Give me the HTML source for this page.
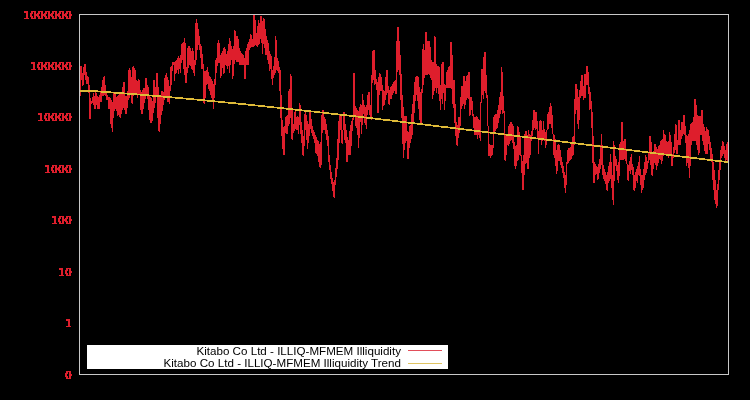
<!DOCTYPE html>
<html><head><meta charset="utf-8"><style>
html,body{margin:0;padding:0;background:#000;width:750px;height:400px;overflow:hidden}
svg{display:block}
.leg{font-family:"Liberation Sans",sans-serif;font-size:10.5px;fill:#000}
</style></head><body>
<svg width="750" height="400" viewBox="0 0 750 400">
<rect width="750" height="400" fill="#000"/>
<path d="M24,11h4v1h-4zM24,12h4v1h-4zM26,13h2v1h-2zM26,14h2v1h-2zM26,15h2v1h-2zM26,16h2v1h-2zM26,17h2v1h-2zM24,18h5v1h-5zM31,11h5v1h-5zM31,12h2v1h-2zM34,12h2v1h-2zM30,13h3v1h-3zM34,13h2v1h-2zM30,14h2v1h-2zM34,14h3v1h-3zM30,15h2v1h-2zM34,15h3v1h-3zM30,16h3v1h-3zM34,16h2v1h-2zM31,17h2v1h-2zM34,17h2v1h-2zM31,18h5v1h-5zM38,11h5v1h-5zM38,12h2v1h-2zM41,12h2v1h-2zM37,13h3v1h-3zM41,13h2v1h-2zM37,14h2v1h-2zM41,14h3v1h-3zM37,15h2v1h-2zM41,15h3v1h-3zM37,16h3v1h-3zM41,16h2v1h-2zM38,17h2v1h-2zM41,17h2v1h-2zM38,18h5v1h-5zM45,11h5v1h-5zM45,12h2v1h-2zM48,12h2v1h-2zM44,13h3v1h-3zM48,13h2v1h-2zM44,14h2v1h-2zM48,14h3v1h-3zM44,15h2v1h-2zM48,15h3v1h-3zM44,16h3v1h-3zM48,16h2v1h-2zM45,17h2v1h-2zM48,17h2v1h-2zM45,18h5v1h-5zM52,11h5v1h-5zM52,12h2v1h-2zM55,12h2v1h-2zM51,13h3v1h-3zM55,13h2v1h-2zM51,14h2v1h-2zM55,14h3v1h-3zM51,15h2v1h-2zM55,15h3v1h-3zM51,16h3v1h-3zM55,16h2v1h-2zM52,17h2v1h-2zM55,17h2v1h-2zM52,18h5v1h-5zM59,11h5v1h-5zM59,12h2v1h-2zM62,12h2v1h-2zM58,13h3v1h-3zM62,13h2v1h-2zM58,14h2v1h-2zM62,14h3v1h-3zM58,15h2v1h-2zM62,15h3v1h-3zM58,16h3v1h-3zM62,16h2v1h-2zM59,17h2v1h-2zM62,17h2v1h-2zM59,18h5v1h-5zM66,11h5v1h-5zM66,12h2v1h-2zM69,12h2v1h-2zM65,13h3v1h-3zM69,13h2v1h-2zM65,14h2v1h-2zM69,14h3v1h-3zM65,15h2v1h-2zM69,15h3v1h-3zM65,16h3v1h-3zM69,16h2v1h-2zM66,17h2v1h-2zM69,17h2v1h-2zM66,18h5v1h-5zM31,62h4v1h-4zM31,63h4v1h-4zM33,64h2v1h-2zM33,65h2v1h-2zM33,66h2v1h-2zM33,67h2v1h-2zM33,68h2v1h-2zM31,69h5v1h-5zM38,62h5v1h-5zM38,63h2v1h-2zM41,63h2v1h-2zM37,64h3v1h-3zM41,64h2v1h-2zM37,65h2v1h-2zM41,65h3v1h-3zM37,66h2v1h-2zM41,66h3v1h-3zM37,67h3v1h-3zM41,67h2v1h-2zM38,68h2v1h-2zM41,68h2v1h-2zM38,69h5v1h-5zM45,62h5v1h-5zM45,63h2v1h-2zM48,63h2v1h-2zM44,64h3v1h-3zM48,64h2v1h-2zM44,65h2v1h-2zM48,65h3v1h-3zM44,66h2v1h-2zM48,66h3v1h-3zM44,67h3v1h-3zM48,67h2v1h-2zM45,68h2v1h-2zM48,68h2v1h-2zM45,69h5v1h-5zM52,62h5v1h-5zM52,63h2v1h-2zM55,63h2v1h-2zM51,64h3v1h-3zM55,64h2v1h-2zM51,65h2v1h-2zM55,65h3v1h-3zM51,66h2v1h-2zM55,66h3v1h-3zM51,67h3v1h-3zM55,67h2v1h-2zM52,68h2v1h-2zM55,68h2v1h-2zM52,69h5v1h-5zM59,62h5v1h-5zM59,63h2v1h-2zM62,63h2v1h-2zM58,64h3v1h-3zM62,64h2v1h-2zM58,65h2v1h-2zM62,65h3v1h-3zM58,66h2v1h-2zM62,66h3v1h-3zM58,67h3v1h-3zM62,67h2v1h-2zM59,68h2v1h-2zM62,68h2v1h-2zM59,69h5v1h-5zM66,62h5v1h-5zM66,63h2v1h-2zM69,63h2v1h-2zM65,64h3v1h-3zM69,64h2v1h-2zM65,65h2v1h-2zM69,65h3v1h-3zM65,66h2v1h-2zM69,66h3v1h-3zM65,67h3v1h-3zM69,67h2v1h-2zM66,68h2v1h-2zM69,68h2v1h-2zM66,69h5v1h-5zM38,113h4v1h-4zM38,114h4v1h-4zM40,115h2v1h-2zM40,116h2v1h-2zM40,117h2v1h-2zM40,118h2v1h-2zM40,119h2v1h-2zM38,120h5v1h-5zM45,113h5v1h-5zM45,114h2v1h-2zM48,114h2v1h-2zM44,115h3v1h-3zM48,115h2v1h-2zM44,116h2v1h-2zM48,116h3v1h-3zM44,117h2v1h-2zM48,117h3v1h-3zM44,118h3v1h-3zM48,118h2v1h-2zM45,119h2v1h-2zM48,119h2v1h-2zM45,120h5v1h-5zM52,113h5v1h-5zM52,114h2v1h-2zM55,114h2v1h-2zM51,115h3v1h-3zM55,115h2v1h-2zM51,116h2v1h-2zM55,116h3v1h-3zM51,117h2v1h-2zM55,117h3v1h-3zM51,118h3v1h-3zM55,118h2v1h-2zM52,119h2v1h-2zM55,119h2v1h-2zM52,120h5v1h-5zM59,113h5v1h-5zM59,114h2v1h-2zM62,114h2v1h-2zM58,115h3v1h-3zM62,115h2v1h-2zM58,116h2v1h-2zM62,116h3v1h-3zM58,117h2v1h-2zM62,117h3v1h-3zM58,118h3v1h-3zM62,118h2v1h-2zM59,119h2v1h-2zM62,119h2v1h-2zM59,120h5v1h-5zM66,113h5v1h-5zM66,114h2v1h-2zM69,114h2v1h-2zM65,115h3v1h-3zM69,115h2v1h-2zM65,116h2v1h-2zM69,116h3v1h-3zM65,117h2v1h-2zM69,117h3v1h-3zM65,118h3v1h-3zM69,118h2v1h-2zM66,119h2v1h-2zM69,119h2v1h-2zM66,120h5v1h-5zM45,165h4v1h-4zM45,166h4v1h-4zM47,167h2v1h-2zM47,168h2v1h-2zM47,169h2v1h-2zM47,170h2v1h-2zM47,171h2v1h-2zM45,172h5v1h-5zM52,165h5v1h-5zM52,166h2v1h-2zM55,166h2v1h-2zM51,167h3v1h-3zM55,167h2v1h-2zM51,168h2v1h-2zM55,168h3v1h-3zM51,169h2v1h-2zM55,169h3v1h-3zM51,170h3v1h-3zM55,170h2v1h-2zM52,171h2v1h-2zM55,171h2v1h-2zM52,172h5v1h-5zM59,165h5v1h-5zM59,166h2v1h-2zM62,166h2v1h-2zM58,167h3v1h-3zM62,167h2v1h-2zM58,168h2v1h-2zM62,168h3v1h-3zM58,169h2v1h-2zM62,169h3v1h-3zM58,170h3v1h-3zM62,170h2v1h-2zM59,171h2v1h-2zM62,171h2v1h-2zM59,172h5v1h-5zM66,165h5v1h-5zM66,166h2v1h-2zM69,166h2v1h-2zM65,167h3v1h-3zM69,167h2v1h-2zM65,168h2v1h-2zM69,168h3v1h-3zM65,169h2v1h-2zM69,169h3v1h-3zM65,170h3v1h-3zM69,170h2v1h-2zM66,171h2v1h-2zM69,171h2v1h-2zM66,172h5v1h-5zM52,216h4v1h-4zM52,217h4v1h-4zM54,218h2v1h-2zM54,219h2v1h-2zM54,220h2v1h-2zM54,221h2v1h-2zM54,222h2v1h-2zM52,223h5v1h-5zM59,216h5v1h-5zM59,217h2v1h-2zM62,217h2v1h-2zM58,218h3v1h-3zM62,218h2v1h-2zM58,219h2v1h-2zM62,219h3v1h-3zM58,220h2v1h-2zM62,220h3v1h-3zM58,221h3v1h-3zM62,221h2v1h-2zM59,222h2v1h-2zM62,222h2v1h-2zM59,223h5v1h-5zM66,216h5v1h-5zM66,217h2v1h-2zM69,217h2v1h-2zM65,218h3v1h-3zM69,218h2v1h-2zM65,219h2v1h-2zM69,219h3v1h-3zM65,220h2v1h-2zM69,220h3v1h-3zM65,221h3v1h-3zM69,221h2v1h-2zM66,222h2v1h-2zM69,222h2v1h-2zM66,223h5v1h-5zM59,268h4v1h-4zM59,269h4v1h-4zM61,270h2v1h-2zM61,271h2v1h-2zM61,272h2v1h-2zM61,273h2v1h-2zM61,274h2v1h-2zM59,275h5v1h-5zM66,268h5v1h-5zM66,269h2v1h-2zM69,269h2v1h-2zM65,270h3v1h-3zM69,270h2v1h-2zM65,271h2v1h-2zM69,271h3v1h-3zM65,272h2v1h-2zM69,272h3v1h-3zM65,273h3v1h-3zM69,273h2v1h-2zM66,274h2v1h-2zM69,274h2v1h-2zM66,275h5v1h-5zM66,319h4v1h-4zM66,320h4v1h-4zM68,321h2v1h-2zM68,322h2v1h-2zM68,323h2v1h-2zM68,324h2v1h-2zM68,325h2v1h-2zM66,326h5v1h-5zM66,371h5v1h-5zM66,372h2v1h-2zM69,372h2v1h-2zM65,373h3v1h-3zM69,373h2v1h-2zM65,374h2v1h-2zM69,374h3v1h-3zM65,375h2v1h-2zM69,375h3v1h-3zM65,376h3v1h-3zM69,376h2v1h-2zM66,377h2v1h-2zM69,377h2v1h-2zM66,378h5v1h-5z" fill="rgb(222,30,44)" shape-rendering="crispEdges"/>
<path d="M80,66h1V96h-1zM81,66h1V80h-1zM82,73h1V86h-1zM83,67h1V85h-1zM84,64h1V75h-1zM85,64h1V80h-1zM86,72h1V84h-1zM87,76h1V84h-1zM88,77h1V93h-1zM89,85h1V119h-1zM90,98h1V119h-1zM91,101h1V104h-1zM92,97h1V103h-1zM93,93h1V105h-1zM94,96h1V109h-1zM95,91h1V109h-1zM96,93h1V105h-1zM97,96h1V109h-1zM98,97h1V109h-1zM99,95h1V109h-1zM100,91h1V102h-1zM101,87h1V102h-1zM102,80h1V96h-1zM103,77h1V96h-1zM104,76h1V95h-1zM105,85h1V96h-1zM106,91h1V100h-1zM107,95h1V100h-1zM108,97h1V109h-1zM109,97h1V109h-1zM110,98h1V124h-1zM111,100h1V128h-1zM112,102h1V132h-1zM113,92h1V118h-1zM114,92h1V111h-1zM115,92h1V109h-1zM116,97h1V111h-1zM117,96h1V116h-1zM118,95h1V115h-1zM119,93h1V117h-1zM120,92h1V118h-1zM121,92h1V114h-1zM122,87h1V110h-1zM123,82h1V108h-1zM124,82h1V110h-1zM125,96h1V114h-1zM126,96h1V114h-1zM127,91h1V108h-1zM128,70h1V100h-1zM129,68h1V98h-1zM130,70h1V95h-1zM131,77h1V103h-1zM132,67h1V104h-1zM133,66h1V96h-1zM134,68h1V95h-1zM135,70h1V95h-1zM136,80h1V95h-1zM137,81h1V98h-1zM138,79h1V95h-1zM139,80h1V95h-1zM140,90h1V110h-1zM141,92h1V114h-1zM142,90h1V114h-1zM143,88h1V109h-1zM144,88h1V103h-1zM145,78h1V99h-1zM146,78h1V96h-1zM147,85h1V99h-1zM148,87h1V110h-1zM149,95h1V120h-1zM150,97h1V123h-1zM151,98h1V123h-1zM152,101h1V121h-1zM153,80h1V113h-1zM154,80h1V108h-1zM155,87h1V103h-1zM156,73h1V96h-1zM157,73h1V118h-1zM158,87h1V131h-1zM159,96h1V132h-1zM160,96h1V124h-1zM161,91h1V115h-1zM162,91h1V111h-1zM163,92h1V105h-1zM164,78h1V100h-1zM165,75h1V98h-1zM166,73h1V96h-1zM167,77h1V102h-1zM168,80h1V102h-1zM169,86h1V104h-1zM170,67h1V91h-1zM171,66h1V85h-1zM172,62h1V71h-1zM173,62h1V65h-1zM174,62h1V81h-1zM175,61h1V74h-1zM176,60h1V73h-1zM177,58h1V70h-1zM178,56h1V74h-1zM179,58h1V69h-1zM180,55h1V73h-1zM181,44h1V63h-1zM182,43h1V60h-1zM183,42h1V69h-1zM184,38h1V75h-1zM185,43h1V83h-1zM186,67h1V83h-1zM187,48h1V73h-1zM188,46h1V68h-1zM189,46h1V65h-1zM190,48h1V66h-1zM191,51h1V69h-1zM192,48h1V70h-1zM193,51h1V73h-1zM194,60h1V76h-1zM195,23h1V65h-1zM196,19h1V60h-1zM197,23h1V50h-1zM198,29h1V45h-1zM199,36h1V50h-1zM200,44h1V58h-1zM201,46h1V69h-1zM202,54h1V69h-1zM203,64h1V103h-1zM204,71h1V104h-1zM205,71h1V98h-1zM206,70h1V85h-1zM207,67h1V84h-1zM208,72h1V89h-1zM209,76h1V91h-1zM210,77h1V95h-1zM211,79h1V98h-1zM212,81h1V100h-1zM213,84h1V109h-1zM214,79h1V98h-1zM215,60h1V85h-1zM216,58h1V73h-1zM217,43h1V66h-1zM218,40h1V63h-1zM219,43h1V63h-1zM220,55h1V78h-1zM221,53h1V76h-1zM222,51h1V68h-1zM223,48h1V74h-1zM224,47h1V73h-1zM225,49h1V65h-1zM226,54h1V66h-1zM227,51h1V69h-1zM228,44h1V66h-1zM229,38h1V73h-1zM230,41h1V65h-1zM231,46h1V60h-1zM232,49h1V79h-1zM233,46h1V76h-1zM234,30h1V64h-1zM235,31h1V60h-1zM236,36h1V62h-1zM237,36h1V62h-1zM238,39h1V62h-1zM239,48h1V65h-1zM240,51h1V65h-1zM241,53h1V65h-1zM242,54h1V65h-1zM243,55h1V65h-1zM244,58h1V79h-1zM245,51h1V79h-1zM246,48h1V65h-1zM247,44h1V65h-1zM248,42h1V65h-1zM249,39h1V50h-1zM250,34h1V48h-1zM251,35h1V47h-1zM252,39h1V47h-1zM253,15h1V47h-1zM254,15h1V46h-1zM255,20h1V45h-1zM256,33h1V46h-1zM257,26h1V47h-1zM258,20h1V45h-1zM259,23h1V44h-1zM260,16h1V39h-1zM261,16h1V43h-1zM262,21h1V54h-1zM263,18h1V44h-1zM264,19h1V48h-1zM265,29h1V55h-1zM266,36h1V55h-1zM267,40h1V60h-1zM268,43h1V64h-1zM269,51h1V71h-1zM270,54h1V69h-1zM271,56h1V79h-1zM272,70h1V85h-1zM273,66h1V78h-1zM274,57h1V75h-1zM275,36h1V73h-1zM276,40h1V70h-1zM277,58h1V71h-1zM278,61h1V73h-1zM279,67h1V91h-1zM280,70h1V118h-1zM281,95h1V136h-1zM282,120h1V149h-1zM283,127h1V155h-1zM284,126h1V155h-1zM285,117h1V133h-1zM286,116h1V134h-1zM287,115h1V134h-1zM288,91h1V126h-1zM289,89h1V124h-1zM290,74h1V118h-1zM291,76h1V139h-1zM292,109h1V140h-1zM293,124h1V133h-1zM294,112h1V131h-1zM295,110h1V129h-1zM296,117h1V130h-1zM297,116h1V130h-1zM298,117h1V134h-1zM299,103h1V125h-1zM300,105h1V134h-1zM301,122h1V143h-1zM302,130h1V155h-1zM303,136h1V156h-1zM304,114h1V146h-1zM305,112h1V130h-1zM306,115h1V140h-1zM307,121h1V149h-1zM308,124h1V143h-1zM309,111h1V136h-1zM310,111h1V129h-1zM311,119h1V133h-1zM312,126h1V136h-1zM313,130h1V139h-1zM314,132h1V143h-1zM315,135h1V153h-1zM316,137h1V154h-1zM317,140h1V156h-1zM318,141h1V162h-1zM319,144h1V167h-1zM320,142h1V168h-1zM321,115h1V165h-1zM322,110h1V133h-1zM323,110h1V130h-1zM324,117h1V130h-1zM325,119h1V134h-1zM326,124h1V140h-1zM327,130h1V146h-1zM328,136h1V162h-1zM329,155h1V170h-1zM330,165h1V179h-1zM331,172h1V184h-1zM332,178h1V191h-1zM333,182h1V197h-1zM334,180h1V198h-1zM335,168h1V185h-1zM336,158h1V177h-1zM337,139h1V169h-1zM338,121h1V160h-1zM339,115h1V143h-1zM340,114h1V130h-1zM341,115h1V143h-1zM342,130h1V144h-1zM343,112h1V130h-1zM344,112h1V140h-1zM345,124h1V143h-1zM346,130h1V162h-1zM347,137h1V162h-1zM348,140h1V155h-1zM349,131h1V155h-1zM350,125h1V155h-1zM351,121h1V146h-1zM352,118h1V131h-1zM353,73h1V120h-1zM354,73h1V115h-1zM355,106h1V126h-1zM356,108h1V128h-1zM357,110h1V135h-1zM358,111h1V148h-1zM359,107h1V138h-1zM360,104h1V122h-1zM361,105h1V134h-1zM362,94h1V125h-1zM363,100h1V114h-1zM364,105h1V123h-1zM365,107h1V125h-1zM366,105h1V129h-1zM367,95h1V115h-1zM368,92h1V110h-1zM369,92h1V115h-1zM370,105h1V119h-1zM371,75h1V120h-1zM372,51h1V83h-1zM373,50h1V80h-1zM374,50h1V85h-1zM375,70h1V84h-1zM376,79h1V90h-1zM377,82h1V113h-1zM378,77h1V113h-1zM379,73h1V95h-1zM380,74h1V91h-1zM381,77h1V91h-1zM382,85h1V110h-1zM383,90h1V106h-1zM384,91h1V105h-1zM385,77h1V100h-1zM386,70h1V95h-1zM387,70h1V93h-1zM388,86h1V104h-1zM389,90h1V105h-1zM390,87h1V99h-1zM391,86h1V99h-1zM392,84h1V95h-1zM393,82h1V93h-1zM394,81h1V91h-1zM395,80h1V94h-1zM396,41h1V94h-1zM397,27h1V72h-1zM398,27h1V70h-1zM399,41h1V75h-1zM400,55h1V100h-1zM401,74h1V118h-1zM402,95h1V144h-1zM403,107h1V158h-1zM404,116h1V150h-1zM405,116h1V143h-1zM406,116h1V141h-1zM407,131h1V159h-1zM408,132h1V159h-1zM409,126h1V148h-1zM410,125h1V143h-1zM411,114h1V139h-1zM412,104h1V135h-1zM413,95h1V123h-1zM414,82h1V113h-1zM415,77h1V101h-1zM416,76h1V95h-1zM417,76h1V101h-1zM418,77h1V109h-1zM419,87h1V120h-1zM420,92h1V125h-1zM421,89h1V125h-1zM422,49h1V93h-1zM423,44h1V85h-1zM424,50h1V78h-1zM425,32h1V75h-1zM426,32h1V75h-1zM427,41h1V75h-1zM428,41h1V74h-1zM429,41h1V75h-1zM430,47h1V78h-1zM431,60h1V80h-1zM432,62h1V99h-1zM433,62h1V95h-1zM434,36h1V91h-1zM435,37h1V88h-1zM436,64h1V93h-1zM437,66h1V88h-1zM438,66h1V94h-1zM439,67h1V101h-1zM440,85h1V110h-1zM441,64h1V99h-1zM442,62h1V104h-1zM443,62h1V93h-1zM444,84h1V110h-1zM445,85h1V101h-1zM446,72h1V88h-1zM447,70h1V88h-1zM448,67h1V88h-1zM449,66h1V88h-1zM450,42h1V88h-1zM451,42h1V89h-1zM452,55h1V104h-1zM453,80h1V108h-1zM454,80h1V123h-1zM455,104h1V136h-1zM456,122h1V145h-1zM457,125h1V146h-1zM458,117h1V138h-1zM459,117h1V133h-1zM460,97h1V126h-1zM461,86h1V109h-1zM462,86h1V106h-1zM463,76h1V104h-1zM464,76h1V109h-1zM465,81h1V105h-1zM466,76h1V100h-1zM467,75h1V98h-1zM468,72h1V99h-1zM469,72h1V116h-1zM470,97h1V115h-1zM471,97h1V110h-1zM472,101h1V116h-1zM473,114h1V128h-1zM474,117h1V135h-1zM475,117h1V135h-1zM476,116h1V135h-1zM477,117h1V139h-1zM478,119h1V135h-1zM479,120h1V138h-1zM480,102h1V141h-1zM481,69h1V103h-1zM482,69h1V95h-1zM483,57h1V99h-1zM484,52h1V91h-1zM485,52h1V93h-1zM486,75h1V98h-1zM487,95h1V126h-1zM488,126h1V156h-1zM489,144h1V156h-1zM490,145h1V158h-1zM491,145h1V156h-1zM492,145h1V155h-1zM493,117h1V148h-1zM494,115h1V134h-1zM495,114h1V131h-1zM496,114h1V129h-1zM497,110h1V128h-1zM498,105h1V123h-1zM499,97h1V118h-1zM500,92h1V114h-1zM501,67h1V110h-1zM502,72h1V114h-1zM503,96h1V113h-1zM504,111h1V160h-1zM505,135h1V161h-1zM506,135h1V155h-1zM507,135h1V145h-1zM508,126h1V146h-1zM509,124h1V144h-1zM510,122h1V141h-1zM511,122h1V140h-1zM512,124h1V143h-1zM513,126h1V149h-1zM514,142h1V166h-1zM515,146h1V169h-1zM516,145h1V166h-1zM517,126h1V161h-1zM518,127h1V160h-1zM519,132h1V155h-1zM520,137h1V156h-1zM521,155h1V173h-1zM522,161h1V190h-1zM523,155h1V190h-1zM524,134h1V175h-1zM525,131h1V164h-1zM526,131h1V163h-1zM527,135h1V169h-1zM528,130h1V169h-1zM529,134h1V158h-1zM530,135h1V155h-1zM531,131h1V141h-1zM532,120h1V136h-1zM533,110h1V130h-1zM534,110h1V128h-1zM535,112h1V130h-1zM536,112h1V129h-1zM537,121h1V138h-1zM538,131h1V154h-1zM539,121h1V139h-1zM540,120h1V140h-1zM541,121h1V145h-1zM542,130h1V141h-1zM543,121h1V138h-1zM544,129h1V141h-1zM545,132h1V148h-1zM546,130h1V145h-1zM547,114h1V130h-1zM548,112h1V129h-1zM549,107h1V124h-1zM550,103h1V124h-1zM551,106h1V128h-1zM552,115h1V134h-1zM553,134h1V155h-1zM554,135h1V158h-1zM555,139h1V166h-1zM556,150h1V174h-1zM557,145h1V171h-1zM558,144h1V161h-1zM559,145h1V161h-1zM560,150h1V165h-1zM561,157h1V168h-1zM562,162h1V173h-1zM563,166h1V178h-1zM564,172h1V188h-1zM565,175h1V193h-1zM566,162h1V185h-1zM567,150h1V164h-1zM568,148h1V163h-1zM569,148h1V161h-1zM570,147h1V160h-1zM571,142h1V159h-1zM572,137h1V156h-1zM573,136h1V155h-1zM574,99h1V145h-1zM575,84h1V114h-1zM576,84h1V110h-1zM577,89h1V124h-1zM578,97h1V129h-1zM579,90h1V120h-1zM580,81h1V98h-1zM581,75h1V96h-1zM582,75h1V96h-1zM583,86h1V100h-1zM584,74h1V98h-1zM585,74h1V98h-1zM586,66h1V85h-1zM587,66h1V85h-1zM588,72h1V94h-1zM589,87h1V110h-1zM590,92h1V109h-1zM591,101h1V128h-1zM592,112h1V163h-1zM593,136h1V183h-1zM594,162h1V183h-1zM595,164h1V175h-1zM596,166h1V174h-1zM597,167h1V180h-1zM598,164h1V179h-1zM599,159h1V173h-1zM600,145h1V169h-1zM601,134h1V165h-1zM602,145h1V175h-1zM603,165h1V179h-1zM604,169h1V181h-1zM605,172h1V184h-1zM606,175h1V190h-1zM607,172h1V191h-1zM608,166h1V183h-1zM609,162h1V181h-1zM610,154h1V179h-1zM611,162h1V188h-1zM612,175h1V200h-1zM613,141h1V205h-1zM614,145h1V181h-1zM615,156h1V166h-1zM616,159h1V171h-1zM617,165h1V180h-1zM618,162h1V183h-1zM619,144h1V176h-1zM620,142h1V160h-1zM621,122h1V160h-1zM622,122h1V160h-1zM623,141h1V160h-1zM624,139h1V159h-1zM625,139h1V161h-1zM626,149h1V164h-1zM627,164h1V180h-1zM628,165h1V181h-1zM629,161h1V171h-1zM630,157h1V174h-1zM631,154h1V170h-1zM632,164h1V175h-1zM633,167h1V190h-1zM634,175h1V191h-1zM635,172h1V188h-1zM636,169h1V181h-1zM637,166h1V183h-1zM638,162h1V175h-1zM639,156h1V176h-1zM640,169h1V185h-1zM641,175h1V193h-1zM642,175h1V190h-1zM643,169h1V188h-1zM644,162h1V180h-1zM645,155h1V175h-1zM646,157h1V173h-1zM647,161h1V169h-1zM648,152h1V163h-1zM649,136h1V160h-1zM650,136h1V165h-1zM651,142h1V175h-1zM652,152h1V176h-1zM653,151h1V169h-1zM654,144h1V163h-1zM655,144h1V165h-1zM656,147h1V170h-1zM657,149h1V166h-1zM658,146h1V163h-1zM659,145h1V159h-1zM660,141h1V160h-1zM661,140h1V164h-1zM662,139h1V161h-1zM663,130h1V156h-1zM664,134h1V155h-1zM665,135h1V155h-1zM666,141h1V155h-1zM667,142h1V155h-1zM668,141h1V158h-1zM669,132h1V154h-1zM670,135h1V155h-1zM671,142h1V166h-1zM672,154h1V166h-1zM673,147h1V158h-1zM674,134h1V153h-1zM675,124h1V150h-1zM676,125h1V154h-1zM677,140h1V154h-1zM678,120h1V145h-1zM679,120h1V145h-1zM680,130h1V145h-1zM681,122h1V139h-1zM682,122h1V136h-1zM683,115h1V134h-1zM684,115h1V135h-1zM685,126h1V143h-1zM686,135h1V166h-1zM687,136h1V163h-1zM688,134h1V168h-1zM689,130h1V178h-1zM690,124h1V166h-1zM691,123h1V145h-1zM692,122h1V141h-1zM693,117h1V141h-1zM694,99h1V141h-1zM695,99h1V141h-1zM696,105h1V145h-1zM697,115h1V150h-1zM698,116h1V155h-1zM699,116h1V153h-1zM700,116h1V135h-1zM701,110h1V135h-1zM702,110h1V141h-1zM703,124h1V145h-1zM704,127h1V151h-1zM705,131h1V154h-1zM706,127h1V154h-1zM707,129h1V154h-1zM708,130h1V144h-1zM709,136h1V150h-1zM710,142h1V160h-1zM711,148h1V162h-1zM712,154h1V180h-1zM713,162h1V190h-1zM714,170h1V200h-1zM715,180h1V204h-1zM716,190h1V208h-1zM717,184h1V206h-1zM718,170h1V190h-1zM719,160h1V180h-1zM720,150h1V170h-1zM721,146h1V158h-1zM722,141h1V156h-1zM723,142h1V154h-1zM724,146h1V158h-1zM725,150h1V162h-1zM726,144h1V160h-1zM727,142h1V162h-1z" fill="rgb(222,30,44)" shape-rendering="crispEdges"/>
<polyline points="80.0,90.90 84.0,90.90 88.0,90.90 92.0,90.97 96.0,91.26 100.0,91.55 104.0,91.84 108.0,92.14 112.0,92.44 116.0,92.75 120.0,93.06 124.0,93.37 128.0,93.69 132.0,94.01 136.0,94.33 140.0,94.66 144.0,94.99 148.0,95.32 152.0,95.66 156.0,96.00 160.0,96.34 164.0,96.69 168.0,97.04 172.0,97.39 176.0,97.75 180.0,98.10 184.0,98.47 188.0,98.83 192.0,99.20 196.0,99.57 200.0,99.94 204.0,100.32 208.0,100.70 212.0,101.08 216.0,101.47 220.0,101.85 224.0,102.24 228.0,102.64 232.0,103.03 236.0,103.43 240.0,103.83 244.0,104.23 248.0,104.64 252.0,105.05 256.0,105.46 260.0,105.87 264.0,106.29 268.0,106.71 272.0,107.13 276.0,107.55 280.0,107.97 284.0,108.40 288.0,108.83 292.0,109.26 296.0,109.69 300.0,110.13 304.0,110.57 308.0,111.01 312.0,111.45 316.0,111.89 320.0,112.34 324.0,112.79 328.0,113.24 332.0,113.69 336.0,114.14 340.0,114.59 344.0,115.05 348.0,115.51 352.0,115.97 356.0,116.43 360.0,116.89 364.0,117.36 368.0,117.82 372.0,118.29 376.0,118.76 380.0,119.23 384.0,119.71 388.0,120.18 392.0,120.65 396.0,121.13 400.0,121.61 404.0,122.09 408.0,122.57 412.0,123.05 416.0,123.53 420.0,124.01 424.0,124.50 428.0,124.98 432.0,125.47 436.0,125.96 440.0,126.45 444.0,126.94 448.0,127.43 452.0,127.92 456.0,128.41 460.0,128.91 464.0,129.40 468.0,129.89 472.0,130.39 476.0,130.89 480.0,131.38 484.0,131.88 488.0,132.38 492.0,132.88 496.0,133.38 500.0,133.88 504.0,134.38 508.0,134.88 512.0,135.38 516.0,135.88 520.0,136.38 524.0,136.88 528.0,137.38 532.0,137.89 536.0,138.39 540.0,138.89 544.0,139.39 548.0,139.90 552.0,140.40 556.0,140.90 560.0,141.41 564.0,141.91 568.0,142.41 572.0,142.92 576.0,143.42 580.0,143.92 584.0,144.42 588.0,144.93 592.0,145.43 596.0,145.93 600.0,146.43 604.0,146.93 608.0,147.43 612.0,147.94 616.0,148.44 620.0,148.93 624.0,149.43 628.0,149.93 632.0,150.43 636.0,150.93 640.0,151.42 644.0,151.92 648.0,152.42 652.0,152.91 656.0,153.40 660.0,153.90 664.0,154.39 668.0,154.88 672.0,155.37 676.0,155.86 680.0,156.35 684.0,156.84 688.0,157.32 692.0,157.81 696.0,158.30 700.0,158.78 704.0,159.26 708.0,159.74 712.0,160.22 716.0,160.70 720.0,161.18 724.0,161.65 728.0,162.13" fill="none" stroke="rgb(222,186,56)" stroke-width="1.75" shape-rendering="crispEdges"/>
<rect x="79.5" y="14.5" width="649" height="360" fill="none" stroke="#c8c8c8" stroke-width="1"/>
<rect x="87" y="345" width="361" height="24" fill="#fff"/>
<g class="leg" style="filter:grayscale(1)">
<text x="401" y="355.3" text-anchor="end" transform="translate(401 0) scale(1.107 1) translate(-401 0)">Kitabo Co Ltd - ILLIQ-MFMEM Illiquidity</text>
<text x="401" y="367.3" text-anchor="end" transform="translate(401 0) scale(1.107 1) translate(-401 0)">Kitabo Co Ltd - ILLIQ-MFMEM Illiquidity Trend</text>
</g>
<line x1="408" y1="350.5" x2="442" y2="350.5" stroke="rgb(226,78,90)" stroke-width="1" shape-rendering="crispEdges"/>
<line x1="408" y1="363.5" x2="442" y2="363.5" stroke="rgb(224,196,98)" stroke-width="1" shape-rendering="crispEdges"/>
</svg>
</body></html>
